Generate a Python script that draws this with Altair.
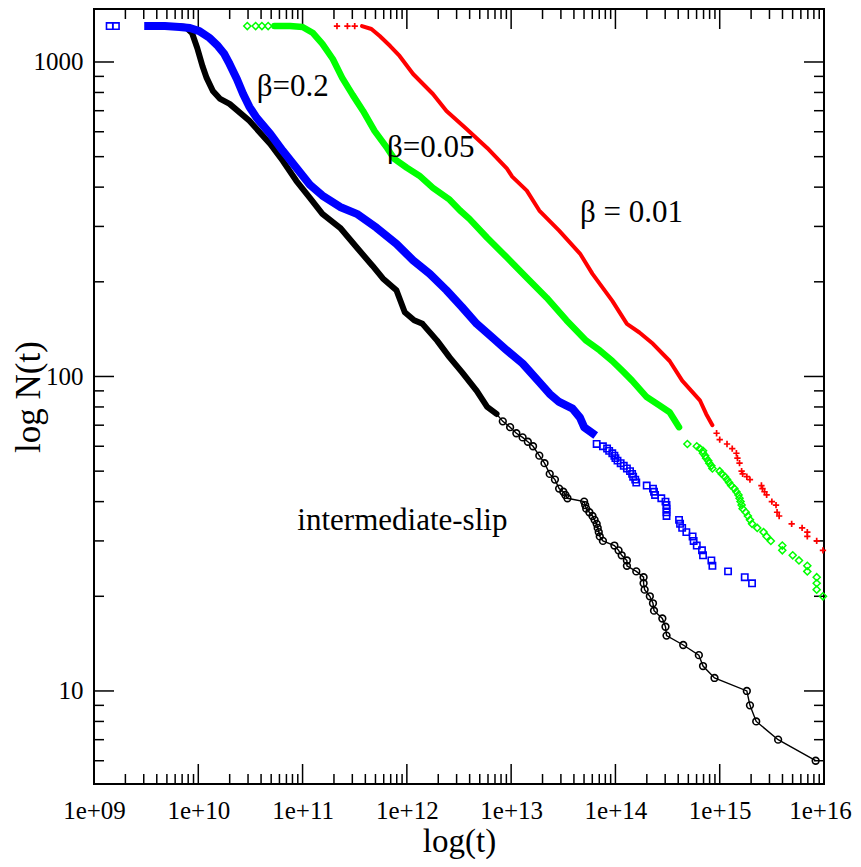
import altair as alt
import pandas as pd

# ---------------- values ----------------
# x values are given as log10(t); y values are N(t)

# black: intermediate-slip (open circles joined by a thin line)
black_dense_logt = [9.80, 9.88, 9.94, 9.99, 10.04, 10.08, 10.14, 10.21, 10.30, 10.49,
                    10.69, 10.81, 10.94, 11.07, 11.19, 11.36, 11.52, 11.67, 11.77, 11.90,
                    11.98, 12.07, 12.15, 12.29, 12.41, 12.53, 12.67, 12.77, 12.86]
black_dense_n = [1301, 1292, 1236, 1108, 971, 890, 809, 763, 736, 650,
                 549, 485, 419, 370, 329, 297, 257, 225, 205, 188,
                 160, 151, 147, 130, 115, 103, 90, 80, 76]
black_sparse_logt = [12.92, 12.99, 13.05, 13.11, 13.16, 13.21, 13.27, 13.32, 13.37, 13.42,
                     13.46, 13.50, 13.52, 13.54, 13.70, 13.71, 13.72, 13.75, 13.78, 13.80,
                     13.82, 13.83, 13.84, 13.85, 13.88, 13.99, 14.03, 14.06, 14.11, 14.11,
                     14.20, 14.27, 14.27, 14.28, 14.33, 14.36, 14.37, 14.45, 14.48, 14.49,
                     14.65, 14.80, 14.84, 14.95, 15.26, 15.29, 15.35, 15.56, 15.92]
black_sparse_n = [72, 69, 66, 64, 62, 60, 56, 53, 49, 47,
                  44, 43, 42, 41, 40, 39, 38, 37, 36, 35,
                  34, 33, 32, 31, 30, 29, 28, 27, 26, 25,
                  24, 23, 22, 21, 20, 19, 18, 17, 16, 15,
                  14, 13, 12, 11, 10, 9, 8, 7, 6]

# blue: beta = 0.2 (open squares)
blue_dense_logt = [9.52, 9.68, 9.82, 9.92, 10.01, 10.11, 10.18, 10.25, 10.30, 10.37,
                   10.43, 10.49, 10.56, 10.69, 10.81, 10.94, 11.07, 11.19, 11.36, 11.52,
                   11.71, 11.90, 12.06, 12.22, 12.38, 12.53, 12.67, 12.82, 12.96, 13.11,
                   13.27, 13.37, 13.46, 13.59, 13.66, 13.70, 13.78]
blue_dense_n = [1301, 1301, 1292, 1282, 1254, 1192, 1132, 1060, 986, 883,
                791, 720, 664, 591, 522, 461, 407, 376, 346, 329,
                297, 264, 234, 212, 188, 166, 147, 133, 121, 110,
                96, 88, 83, 79, 74, 69, 66]
blue_sparse_logt = [9.15, 9.21,
                    13.82, 13.88, 13.92, 13.94, 13.97, 13.99, 14.00, 14.02, 14.05, 14.08,
                    14.11, 14.14, 14.16, 14.17, 14.19, 14.20, 14.30, 14.36, 14.37, 14.38,
                    14.44, 14.48, 14.49, 14.49, 14.49, 14.49, 14.61, 14.62, 14.64, 14.68,
                    14.74, 14.75, 14.78, 14.83, 14.84, 14.92, 14.93, 15.08, 15.24, 15.31]
blue_sparse_n = [1301, 1301,
                 61, 60, 59, 58, 57, 56, 55, 54, 53, 52,
                 51, 50, 49, 48, 47, 46, 45, 44, 43, 42,
                 41, 40, 39, 38, 37, 36, 35, 34, 33, 32,
                 31, 30, 29, 28, 27, 26, 25, 24, 23, 22]

# green: beta = 0.05 (open diamonds)
green_dense_logt = [10.73, 10.88, 11.00, 11.10, 11.19, 11.29, 11.38, 11.48, 11.58, 11.69,
                    11.81, 11.88, 12.00, 12.12, 12.25, 12.41, 12.51, 12.60, 12.77, 12.96,
                    13.15, 13.34, 13.53, 13.72, 13.85, 13.97, 14.07, 14.16, 14.30, 14.42,
                    14.52, 14.61]
green_dense_n = [1301, 1301, 1292, 1236, 1141, 1022, 890, 786, 699, 604,
                 533, 492, 461, 435, 398, 365, 337, 317, 276, 239,
                 206, 178, 151, 130, 121, 112, 104, 97, 86, 81,
                 77, 69]
green_sparse_logt = [10.47, 10.55, 10.61, 10.67,
                     14.69, 14.78, 14.81, 14.84, 14.84, 14.86, 14.87, 14.89, 14.90, 14.92,
                     14.93, 15.00, 15.02, 15.05, 15.07, 15.09, 15.11, 15.14, 15.16, 15.18,
                     15.19, 15.20, 15.21, 15.22, 15.25, 15.27, 15.29, 15.31, 15.36, 15.42,
                     15.45, 15.49, 15.60, 15.60, 15.70, 15.76, 15.84, 15.84, 15.93, 15.93,
                     15.93, 15.99]
green_sparse_n = [1301, 1301, 1301, 1301,
                  61, 60, 59, 58, 57, 56, 55, 54, 53, 52,
                  51, 50, 49, 48, 47, 46, 45, 44, 43, 42,
                  41, 40, 39, 38, 37, 36, 35, 34, 33, 32,
                  31, 30, 29, 28, 27, 26, 25, 24, 23, 22,
                  21, 20]

# red: beta = 0.01 (plus signs)
red_dense_logt = [11.57, 11.66, 11.74, 11.84, 11.93, 12.06, 12.25, 12.38, 12.57, 12.77,
                  12.96, 13.01, 13.15, 13.27, 13.46, 13.66, 13.78, 13.97, 14.11, 14.23,
                  14.36, 14.52, 14.64, 14.81, 14.87, 14.93]
red_dense_n = [1301, 1273, 1209, 1124, 1045, 916, 791, 699, 613, 533,
               458, 432, 390, 337, 291, 246, 212, 174, 147, 138,
               127, 112, 97, 84, 76, 70]
red_sparse_logt = [11.33, 11.43, 11.50,
                   14.97, 15.00, 15.07, 15.12, 15.16, 15.17, 15.19, 15.21, 15.22, 15.26,
                   15.29, 15.40, 15.41, 15.43, 15.45, 15.50, 15.54, 15.55, 15.57, 15.69,
                   15.79, 15.84, 15.84, 15.93, 15.99]
red_sparse_n = [1301, 1301, 1301,
                66, 63, 61, 59, 57, 55, 53, 50, 49, 48,
                47, 45, 44, 43, 42, 40, 39, 37, 36, 34,
                33, 32, 31, 30, 28]

# annotations (left edge in log10(t), baseline in N)
label_text = ["\u03b2=0.2", "\u03b2=0.05", "\u03b2 = 0.01", "intermediate-slip"]
label_logt = [10.56, 11.81, 13.66, 10.95]
label_n = [780, 499, 310, 32.4]

# axis ticks
x_major = [1e9, 1e10, 1e11, 1e12, 1e13, 1e14, 1e15, 1e16]
x_minor = [m * 10.0 ** k for k in range(9, 16) for m in range(2, 10)]
y_major = [10, 100, 1000]
y_minor = [6, 7, 8, 9, 20, 30, 40, 50, 60, 70, 80, 90,
           200, 300, 400, 500, 600, 700, 800, 900]

# ---------------- chart ----------------
W, H = 730, 775
FONT = "Liberation Serif"

x_scale = alt.Scale(type="log", domain=[1e9, 1e16], nice=False)
y_scale = alt.Scale(type="log", domain=[5.06, 1474], nice=False)

x_axis = alt.Axis(
    values=x_major,
    labelExpr="'1e+' + (round(log(datum.value)/LN10) < 10 ? '0' : '') + round(log(datum.value)/LN10)",
    ticks=False, tickSize=0, domain=False, grid=False,
    labelFont=FONT, labelFontSize=25, labelColor="black", labelPadding=14,
    labelOffset={"condition": {"test": "datum.value > 5e15", "value": -4}, "value": 0},
    labelFlush=False, labelOverlap=False, labelBound=False,
    title="log(t)", titleFont=FONT, titleFontSize=33, titleFontWeight="normal",
    titleColor="black", titleX=W / 2, titleY=67, titleAlign="center",
    titleBaseline="alphabetic",
)
y_axis = alt.Axis(
    values=y_major, format="d",
    ticks=False, tickSize=0, domain=False, grid=False,
    labelFont=FONT, labelFontSize=25, labelColor="black", labelPadding=11,
    labelFlush=False, labelOverlap=False, labelBound=False,
    title="log N(t)", titleFont=FONT, titleFontSize=35, titleFontWeight="normal",
    titleColor="black", titleX=-55, titleY=H / 2, titleAngle=270,
    titleAlign="center", titleBaseline="alphabetic",
)


def X():
    return alt.X("t:Q", scale=x_scale, axis=x_axis)


def Y():
    return alt.Y("N:Q", scale=y_scale, axis=y_axis)


def frame(logt, n):
    return pd.DataFrame({"t": [10 ** v for v in logt], "N": n, "i": list(range(len(n)))})


layers = []

# ticks on all four sides, pointing inward
for vals, ln in ((x_major, 20), (x_minor, 10)):
    d = pd.DataFrame({"t": vals})
    layers.append(alt.Chart(d).mark_rule(color="black", strokeWidth=1.5).encode(
        x=X(), y=alt.value(H), y2=alt.value(H - ln)))
    layers.append(alt.Chart(d).mark_rule(color="black", strokeWidth=1.5).encode(
        x=X(), y=alt.value(0), y2=alt.value(ln)))
for vals, ln in ((y_major, 20), (y_minor, 10)):
    d = pd.DataFrame({"N": vals})
    layers.append(alt.Chart(d).mark_rule(color="black", strokeWidth=1.5).encode(
        y=Y(), x=alt.value(0), x2=alt.value(ln)))
    layers.append(alt.Chart(d).mark_rule(color="black", strokeWidth=1.5).encode(
        y=Y(), x=alt.value(W), x2=alt.value(W - ln)))

# black series
bd = frame(black_dense_logt, black_dense_n)
bs = frame(black_sparse_logt, black_sparse_n)
ball = frame(black_dense_logt + black_sparse_logt, black_dense_n + black_sparse_n)
layers.append(alt.Chart(ball).mark_line(color="black", strokeWidth=1.4).encode(
    x=X(), y=Y(), order="i:Q"))
layers.append(alt.Chart(bd).mark_line(color="black", strokeWidth=6, strokeJoin="round",
                                      strokeCap="round").encode(x=X(), y=Y(), order="i:Q"))
layers.append(alt.Chart(bs).mark_point(shape="circle", filled=False, color="black",
                                       size=45, strokeWidth=1.6, opacity=1).encode(x=X(), y=Y()))

# blue series
ud = frame(blue_dense_logt, blue_dense_n)
us = frame(blue_sparse_logt, blue_sparse_n)
layers.append(alt.Chart(ud).mark_line(color="#0000ff", strokeWidth=8, strokeJoin="round",
                                      strokeCap="square").encode(x=X(), y=Y(), order="i:Q"))
layers.append(alt.Chart(us).mark_point(shape="square", filled=False, color="#0000ff",
                                       size=40, strokeWidth=1.6, opacity=1).encode(x=X(), y=Y()))

# green series
gd = frame(green_dense_logt, green_dense_n)
gs = frame(green_sparse_logt, green_sparse_n)
layers.append(alt.Chart(gd).mark_line(color="#00ff00", strokeWidth=6.5, strokeJoin="round",
                                      strokeCap="round").encode(x=X(), y=Y(), order="i:Q"))
layers.append(alt.Chart(gs).mark_point(shape="diamond", filled=False, color="#00ff00",
                                       size=50, strokeWidth=1.5, opacity=1).encode(x=X(), y=Y()))

# red series
rd = frame(red_dense_logt, red_dense_n)
rs = frame(red_sparse_logt, red_sparse_n)
layers.append(alt.Chart(rd).mark_line(color="#ff0000", strokeWidth=4, strokeJoin="round",
                                      strokeCap="round").encode(x=X(), y=Y(), order="i:Q"))
layers.append(alt.Chart(rs).mark_point(shape="M-1,0L1,0M0,-1L0,1", filled=False, color="#ff0000",
                                       size=40, strokeWidth=1.7, opacity=1).encode(x=X(), y=Y()))

# annotations
ld = pd.DataFrame({"t": [10 ** v for v in label_logt], "N": label_n, "label": label_text})
layers.append(alt.Chart(ld).mark_text(font=FONT, fontSize=31, align="left",
                                      baseline="alphabetic", color="black").encode(
    x=X(), y=Y(), text="label:N"))

chart = alt.layer(*layers).properties(
    width=W, height=H,
    padding={"left": 86, "top": 1, "right": 29, "bottom": 75},
    autosize=alt.AutoSizeParams(type="none"),
    background="white",
).configure_view(stroke="black", strokeWidth=2)

chart.save("out.html", embed_options={"renderer": "svg", "actions": False})
